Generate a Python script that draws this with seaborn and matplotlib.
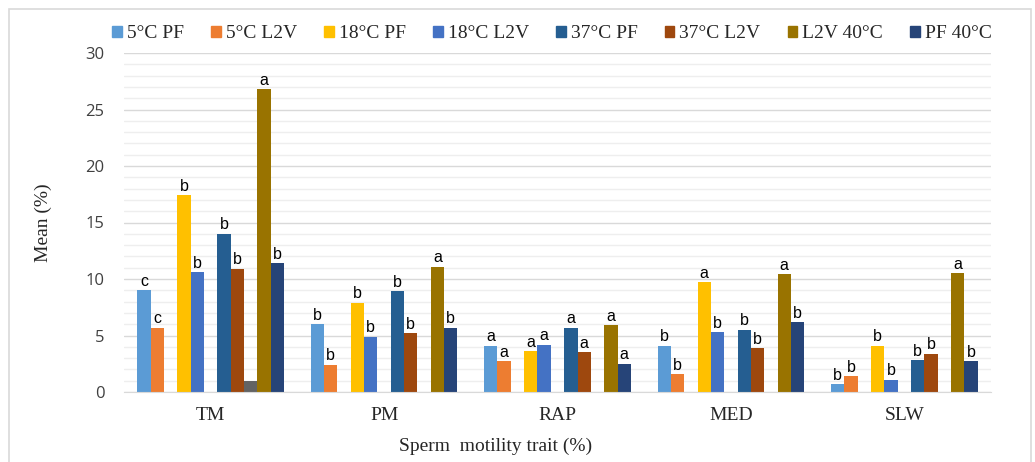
import numpy as np
import pandas as pd
import seaborn as sns
import matplotlib.pyplot as plt
from matplotlib.patches import Rectangle, Patch

# data
traits = ["TM", "PM", "RAP", "MED", "SLW"]

pf_5 = [9.0, 6.0, 4.1, 4.1, 0.7]
l2v_5 = [5.7, 2.4, 2.7, 1.6, 1.4]
pf_18 = [17.4, 7.9, 3.6, 9.7, 4.1]
l2v_18 = [10.6, 4.9, 4.2, 5.3, 1.1]
pf_37 = [14.0, 8.9, 5.7, 5.5, 2.8]
l2v_37 = [10.9, 5.2, 3.5, 3.9, 3.4]
extra = [1.0, 0, 0, 0, 0]          # unlabelled grey bar (only in TM)
l2v_40 = [26.8, 11.1, 5.9, 10.4, 10.5]
pf_40 = [11.4, 5.7, 2.5, 6.2, 2.7]
empty = [0, 0, 0, 0, 0]

let_pf_5 = ["c", "b", "a", "b", "b"]
let_l2v_5 = ["c", "b", "a", "b", "b"]
let_pf_18 = ["b", "b", "a", "a", "b"]
let_l2v_18 = ["b", "b", "a", "b", "b"]
let_pf_37 = ["b", "b", "a", "b", "b"]
let_l2v_37 = ["b", "b", "a", "b", "b"]
let_l2v_40 = ["a", "a", "a", "a", "a"]
let_pf_40 = ["b", "b", "a", "b", "b"]
no_let = ["", "", "", "", ""]

slots = ["5°C PF", "5°C L2V", "gap1", "18°C PF", "18°C L2V", "gap2",
         "37°C PF", "37°C L2V", "Series9", "L2V 40°C", "PF 40°C"]
slot_vals = [pf_5, l2v_5, empty, pf_18, l2v_18, empty,
             pf_37, l2v_37, extra, l2v_40, pf_40]
slot_lets = [let_pf_5, let_l2v_5, no_let, let_pf_18, let_l2v_18, no_let,
             let_pf_37, let_l2v_37, no_let, let_l2v_40, let_pf_40]
colors = ["#5B9BD5", "#ED7D31", "#FFFFFF", "#FFC000", "#4472C4", "#FFFFFF",
          "#255E91", "#9E480E", "#636363", "#997300", "#264478"]
legend_slots = ["5°C PF", "5°C L2V", "18°C PF", "18°C L2V",
                "37°C PF", "37°C L2V", "L2V 40°C", "PF 40°C"]

rows = []
for s, vals in zip(slots, slot_vals):
    for t, v in zip(traits, vals):
        rows.append({"trait": t, "series": s, "mean": v})
df = pd.DataFrame(rows)

sns.set_style("white")
plt.rcParams['font.family'] = ['Liberation Serif', 'DejaVu Serif']

fig = plt.figure(figsize=(10.35, 4.62), dpi=100)
ax = fig.add_axes([124/1035, 70/462, 867/1035, 339/462])

sns.barplot(data=df, x="trait", y="mean", hue="series", hue_order=slots,
            palette=dict(zip(slots, colors)), width=0.846, gap=0,
            saturation=1, linewidth=0, legend=False, ax=ax)

# significance letters
for cont, lets in zip(ax.containers, slot_lets):
    for bar, txt in zip(cont, lets):
        if txt:
            ax.annotate(txt, (bar.get_x() + bar.get_width() / 2, bar.get_height()),
                        xytext=(0, 1), textcoords="offset points",
                        ha="center", va="bottom", fontsize=11.5,
                        family="Liberation Sans", color="#000000")

ax.set_ylim(0, 30)
ax.set_xlim(-0.5, 4.5)
ax.set_yticks(np.arange(0, 31, 5))
ax.set_yticks(np.arange(0, 31, 1), minor=True)
ax.grid(axis="y", which="major", color="#D9D9D9", linewidth=1)
ax.grid(axis="y", which="minor", color="#EEEEEE", linewidth=1)
ax.set_axisbelow(True)
for sp in ["top", "right", "left"]:
    ax.spines[sp].set_visible(False)
ax.spines["bottom"].set_color("#D9D9D9")
ax.tick_params(axis="y", which="both", length=0, pad=14, labelsize=12,
               labelcolor="#404040")
for lab in ax.get_yticklabels():
    lab.set_family("Open Sans")
ax.tick_params(axis="x", length=0, pad=11, labelsize=14)

ax.set_ylabel("Mean (%)", fontsize=14, labelpad=24)
ax.set_xlabel("Sperm  motility trait (%)", fontsize=14)
ax.xaxis.set_label_coords(0.428, -0.135)

handles = [Patch(color=colors[slots.index(s)], label=s) for s in legend_slots]
fig.legend(handles=handles, loc="center", bbox_to_anchor=(552/1035, 1 - 34/462),
           ncol=8, frameon=False, fontsize=14, handlelength=0.5,
           handleheight=0.5, handletextpad=0.25, columnspacing=1.4)

fig.patches.append(Rectangle((9/1035, -0.1), 1022/1035, 1.1 - 9/462,
                             transform=fig.transFigure, fill=False,
                             edgecolor="#D9D9D9", linewidth=1.2))

fig.savefig("out.png", dpi=100)
